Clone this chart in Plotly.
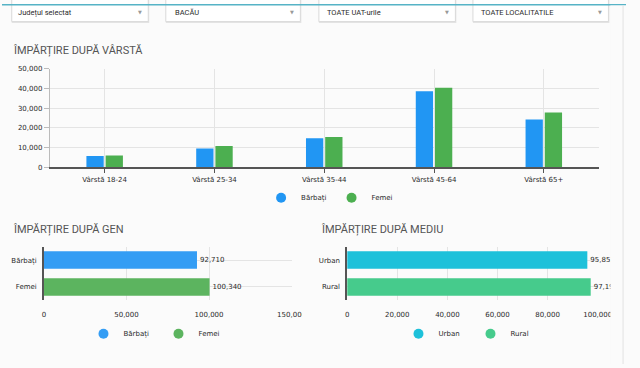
import plotly.graph_objects as go

W, H = 640, 368


def px(x):
    return x / W


def py(y):
    return 1 - y / H


# ---------------- data ----------------
age_groups = ["Vârstă 18-24", "Vârstă 25-34", "Vârstă 35-44", "Vârstă 45-64", "Vârstă 65+"]
men_by_age = [5700, 9500, 14800, 38500, 24200]
women_by_age = [6000, 10800, 15400, 40300, 27800]

gender_labels = ["Bărbați", "Femei"]
gender_values = [92710, 100340]

area_labels = ["Urban", "Rural"]
area_values = [95851, 97199]

filter_labels = ["Județul selectat", "BACĂU", "TOATE UAT-urile", "TOATE LOCALITATILE"]
section_titles = ["ÎMPĂRȚIRE DUPĂ VÂRSTĂ", "ÎMPĂRȚIRE DUPĂ GEN", "ÎMPĂRȚIRE DUPĂ MEDIU"]

# ---------------- style ----------------
BG = "#fbfbfb"
BLUE = "#2196F3"
GREEN = "#4CAF50"
BLUE2 = "#349DF4"
GREEN2 = "#5CB45F"
CYAN = "#1EC1DA"
MINT = "#46CB8C"
GRID = "#e4e4e4"
TXT = "#2a2a2a"
TICKFONT = dict(family="DejaVu Sans", size=7, color=TXT)

fig = go.Figure()

# top grouped bars
fig.add_trace(go.Bar(x=age_groups, y=men_by_age, name="Bărbați", marker=dict(color=BLUE, line=dict(width=0)),
                     xaxis="x", yaxis="y", showlegend=False))
fig.add_trace(go.Bar(x=age_groups, y=women_by_age, name="Femei", marker=dict(color=GREEN, line=dict(width=0)),
                     xaxis="x", yaxis="y", showlegend=False))

# gender horizontal bars
fig.add_trace(go.Bar(y=gender_labels, x=gender_values, orientation="h", width=0.65,
                     marker=dict(color=[BLUE2, GREEN2], line=dict(width=0)),
                     texttemplate="%{x:,}", textposition="outside", cliponaxis=False, constraintext="none",
                     textfont=TICKFONT, xaxis="x2", yaxis="y2", showlegend=False))

# area horizontal bars
fig.add_trace(go.Bar(y=area_labels, x=area_values, orientation="h", width=0.65,
                     marker=dict(color=[CYAN, MINT], line=dict(width=0)),
                     texttemplate="%{x:,}", textposition="outside", cliponaxis=False, constraintext="none",
                     textfont=TICKFONT, xaxis="x3", yaxis="y3", showlegend=False))

# legend entries (circle markers)
for name, col in zip(gender_labels, [BLUE, GREEN]):
    fig.add_trace(go.Scatter(x=[None], y=[None], mode="markers", name=name,
                             marker=dict(symbol="circle", size=10, color=col),
                             xaxis="x", yaxis="y", legend="legend"))
for name, col in zip(gender_labels, [BLUE2, GREEN2]):
    fig.add_trace(go.Scatter(x=[None], y=[None], mode="markers", name=name,
                             marker=dict(symbol="circle", size=10, color=col),
                             xaxis="x2", yaxis="y2", legend="legend2"))
for name, col in zip(area_labels, [CYAN, MINT]):
    fig.add_trace(go.Scatter(x=[None], y=[None], mode="markers", name=name,
                             marker=dict(symbol="circle", size=10, color=col),
                             xaxis="x3", yaxis="y3", legend="legend3"))

legend_common = dict(orientation="h", yanchor="middle", xanchor="center", bgcolor="rgba(0,0,0,0)",
                     font=dict(family="DejaVu Sans", size=7, color=TXT), itemclick=False,
                     itemdoubleclick=False)

# ---------------- shapes (page chrome) ----------------
shapes = []
boxes = [(10, 150), (168, 306), (325, 465), (483, 622)]
for x0, x1 in boxes:
    shapes.append(dict(type="rect", xref="paper", yref="paper", x0=px(x0), x1=px(x1 + 1), y0=py(19.5), y1=py(-5),
                       fillcolor="#e4e4e4", line=dict(width=0), layer="below"))
    shapes.append(dict(type="rect", xref="paper", yref="paper", x0=px(x0), x1=px(x1), y0=py(18), y1=py(-5),
                       fillcolor="#ffffff", line=dict(color="#dadada", width=1), layer="below"))
shapes.append(dict(type="rect", xref="paper", yref="paper", x0=0, x1=1, y0=py(1.5), y1=1,
                   fillcolor="#56b3c6", line=dict(width=0), layer="above"))
# clipped chart container edges
shapes.append(dict(type="rect", xref="paper", yref="paper", x0=px(624), x1=1, y0=0, y1=py(1.5),
                   fillcolor=BG, line=dict(width=0), layer="above"))
shapes.append(dict(type="line", xref="paper", yref="paper", x0=px(637), x1=px(637), y0=0, y1=py(1.5),
                   line=dict(color="#e2e2e2", width=1), layer="above"))
shapes.append(dict(type="rect", xref="paper", yref="paper", x0=px(307.5), x1=px(322), y0=py(324), y1=py(306),
                   fillcolor=BG, line=dict(width=0), layer="above"))

# ---------------- annotations ----------------
annotations = []
text_x = [14, 175, 331, 489]
for (x0, x1), tx, lab in zip(boxes, text_x, filter_labels):
    annotations.append(dict(xref="paper", yref="paper", x=px(tx), y=py(9), xanchor="left", yanchor="middle",
                            text=lab, showarrow=False, font=dict(family="Roboto", size=7.5, color=TXT)))
    annotations.append(dict(xref="paper", yref="paper", x=px(x1 - 8.5), y=py(8.5), xanchor="center",
                            yanchor="middle", text="▼", showarrow=False,
                            font=dict(family="DejaVu Sans", size=5, color="#999999")))
for (tx, ty), lab in zip([(9, 48), (9, 231), (325, 231)], section_titles):
    annotations.append(dict(xref="paper", yref="paper", x=px(tx), y=py(ty), xanchor="left", yanchor="middle",
                            text=lab, showarrow=False, font=dict(family="Roboto", size=11, color="#555555")))

fig.update_layout(
    width=W, height=H, margin=dict(l=0, r=0, t=0, b=0),
    paper_bgcolor=BG, plot_bgcolor=BG,
    barmode="group", bargap=0.65, bargroupgap=0.1,
    showlegend=True,
    legend=dict(x=px(336), y=py(198), **legend_common),
    legend2=dict(x=px(160.5), y=py(337), entrywidth=30, **legend_common),
    legend3=dict(x=px(480.5), y=py(337), entrywidth=27, **legend_common),
    xaxis=dict(domain=[px(49), px(612)], anchor="y", type="category", showgrid=True, gridcolor=GRID,
               showline=True, linecolor="#555555", linewidth=2, ticks="outside", ticklen=4,
               tickcolor="#555555", tickfont=TICKFONT, zeroline=False, fixedrange=True),
    yaxis=dict(domain=[py(167), py(66)], anchor="x", range=[0, 50000], dtick=10000, tickformat=",",
               showgrid=True, gridcolor=GRID, showline=True, linecolor="#bbbbbb", linewidth=1,
               ticks="outside", ticklen=5, tickcolor="#bbbbbb", tickfont=TICKFONT, zeroline=False),
    xaxis2=dict(domain=[px(43), px(297)], anchor="y2", range=[0, 150000], dtick=50000, tickformat=",",
                showgrid=True, gridcolor=GRID, zeroline=False, showline=False, ticks="",
                ticklabelstandoff=9, tickfont=TICKFONT),
    yaxis2=dict(domain=[py(303), py(248)], anchor="x2", type="category", autorange="reversed",
                showgrid=True, gridcolor=GRID, showline=True, linecolor="#555555", linewidth=1.5,
                ticks="", ticklabelstandoff=4, tickfont=TICKFONT),
    xaxis3=dict(domain=[px(354), px(611)], anchor="y3", range=[0, 100000], dtick=20000, tickformat=",",
                showgrid=True, gridcolor=GRID, zeroline=False, showline=False, ticks="",
                ticklabelstandoff=9, tickfont=TICKFONT),
    yaxis3=dict(domain=[py(303), py(248)], anchor="x3", type="category", autorange="reversed",
                showgrid=True, gridcolor=GRID, showline=True, linecolor="#555555", linewidth=1.5,
                ticks="", ticklabelstandoff=4, tickfont=TICKFONT),
    shapes=shapes, annotations=annotations,
)

page_css = (
    "document.documentElement.style.margin='0';"
    "document.documentElement.style.padding='0';"
    "document.documentElement.style.overflow='hidden';"
    "document.body.style.margin='0';"
    "document.body.style.padding='0';"
    "document.body.style.overflow='hidden';"
    "document.body.style.background='%s';" % BG
)
fig.write_html("out.html", config={"displayModeBar": False}, post_script=page_css)
